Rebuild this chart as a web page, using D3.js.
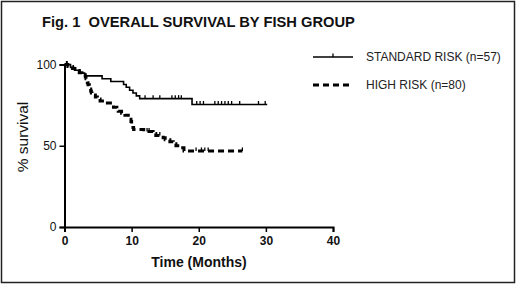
<!DOCTYPE html>
<html><head><meta charset="utf-8">
<script src="https://cdn.jsdelivr.net/npm/d3@7"></script>
<style>
html,body{margin:0;padding:0;background:#fff;}
svg{display:block;font-family:"Liberation Sans",Arial,sans-serif;}
</style></head>
<body><svg id="chart" width="520" height="285"></svg>
<script>
const title = "Fig. 1  OVERALL SURVIVAL BY FISH GROUP";
const xTicks = [0, 10, 20, 30, 40];
const yTicks = [0, 50, 100];
const seriesNames = ["STANDARD RISK (n=57)", "HIGH RISK (n=80)"];

// Standard risk: event times (months) and survival (%)
const stdTimes = [0, 0.9, 1.5, 2.3, 3.0, 5.6, 6.9, 8.8, 9.2, 9.7, 10.2, 10.7, 11.2, 19.0];
const stdSurv  = [100, 98.2, 96.5, 94.7, 93.0, 91.2, 89.5, 87.7, 86.0, 84.2, 82.5, 80.7, 79.0, 75.4];
const stdEnd = 30.2;
const stdCensor = [0.4, 12.0, 13.2, 14.2, 16.0, 16.5, 17.0, 17.4, 19.7, 20.2, 20.7, 22.4, 22.9, 23.4, 23.9, 24.4, 24.9, 26.1, 28.9, 29.9];

// High risk
const highTimes = [0, 0.5, 1.2, 1.8, 2.2, 2.6, 3.1, 3.2, 3.3, 3.4, 3.5, 3.7, 3.8, 3.9, 4.0, 4.1, 4.6, 4.9, 5.3, 6.1, 7.3, 7.8, 8.0, 8.5, 9.0, 9.5, 9.7, 9.9, 10.0, 10.1, 10.2, 10.3, 11.8, 13.2, 13.6, 14.7, 15.0, 15.7, 16.2, 16.6, 17.2, 17.8];
const highSurv  = [100, 98.75, 97.5, 96.25, 95, 93.75, 92.5, 91.25, 90, 88.75, 87.5, 86.25, 85, 83.75, 82.5, 81.25, 80, 78.75, 77.5, 76.25, 73.75, 72.5, 71.25, 70, 68.75, 67.5, 66.25, 65, 63.75, 62.5, 61.25, 60, 58.75, 57.5, 56.25, 55, 53.75, 52.5, 51.25, 50, 48.75, 46.8];
const highEnd = 26.5;
const highCensor = [0.3, 12.3, 12.6, 14.2, 19.6, 20.4, 20.9, 21.4, 26.5];

const svg = d3.select("#chart");
const x = d3.scaleLinear().domain([0, 40]).range([64.5, 333]);
const y = d3.scaleLinear().domain([0, 100]).range([227, 64.5]);

// frame
svg.append("rect").attr("x", 1.5).attr("y", 1.5).attr("width", 513).attr("height", 281)
  .attr("fill", "none").attr("stroke", "#222").attr("stroke-width", 1.5);

svg.append("text").attr("x", 42).attr("y", 27).attr("font-size", 14.7).attr("font-weight", "bold")
  .attr("fill", "#111").attr("xml:space", "preserve").text(title);

// axes
const xAxis = svg.append("g").attr("transform", `translate(0,${y(0)})`)
  .call(d3.axisBottom(x).tickValues(xTicks).tickSize(5).tickPadding(4));
xAxis.select(".domain").attr("stroke-width", 2);
xAxis.selectAll(".tick line").attr("stroke-width", 1.5);
xAxis.selectAll("text").attr("font-size", 12).attr("font-weight", "bold").attr("fill", "#111")
  .attr("font-family", "Liberation Sans, Arial, sans-serif");

const yAxis = svg.append("g").attr("transform", `translate(${x(0)},0)`)
  .call(d3.axisLeft(y).tickValues(yTicks).tickSize(5).tickPadding(3));
yAxis.select(".domain").attr("stroke-width", 2);
yAxis.selectAll(".tick line").attr("stroke-width", 1.5);
yAxis.selectAll("text").attr("font-size", 12).attr("fill", "#111")
  .attr("font-family", "Liberation Sans, Arial, sans-serif");

svg.append("text").attr("x", 199).attr("y", 267).attr("text-anchor", "middle")
  .attr("font-size", 14).attr("font-weight", "bold").attr("fill", "#111").text("Time (Months)");
svg.append("text").attr("transform", "translate(28,137) rotate(-90)").attr("text-anchor", "middle")
  .attr("font-size", 15.5).attr("fill", "#111").text("% survival");

const line = d3.line().x(d => x(d[0])).y(d => y(d[1])).curve(d3.curveStepAfter);
function stepAt(times, surv, t) {
  let v = surv[0];
  for (let i = 0; i < times.length; i++) if (times[i] <= t) v = surv[i];
  return v;
}
function drawKM(times, surv, end, censor, dash) {
  const pts = times.map((t, i) => [t, surv[i]]);
  pts.push([end, surv[surv.length - 1]]);
  const p = svg.append("path").attr("d", line(pts)).attr("fill", "none").attr("stroke", "#000");
  if (dash) p.attr("stroke-width", 3).attr("stroke-dasharray", "6,4");
  else p.attr("stroke-width", 1.6);
  svg.selectAll(null).data(censor).enter().append("line")
    .attr("x1", d => x(d)).attr("x2", d => x(d))
    .attr("y1", d => y(stepAt(times, surv, d)))
    .attr("y2", d => y(stepAt(times, surv, d)) - 3.5)
    .attr("stroke", "#000").attr("stroke-width", 1.3);
}
drawKM(stdTimes, stdSurv, stdEnd, stdCensor, false);
drawKM(highTimes, highSurv, highEnd, highCensor, true);

// legend
svg.append("line").attr("x1", 313).attr("x2", 353).attr("y1", 57).attr("y2", 57)
  .attr("stroke", "#000").attr("stroke-width", 1.6);
svg.append("line").attr("x1", 333).attr("x2", 333).attr("y1", 57).attr("y2", 53.5)
  .attr("stroke", "#000").attr("stroke-width", 1.3);
svg.append("line").attr("x1", 313).attr("x2", 353).attr("y1", 85).attr("y2", 85)
  .attr("stroke", "#000").attr("stroke-width", 3).attr("stroke-dasharray", "6,4");
svg.append("text").attr("x", 366).attr("y", 61).attr("font-size", 12).attr("fill", "#222").text(seriesNames[0]);
svg.append("text").attr("x", 366).attr("y", 89).attr("font-size", 12).attr("fill", "#222").text(seriesNames[1]);
</script></body></html>
